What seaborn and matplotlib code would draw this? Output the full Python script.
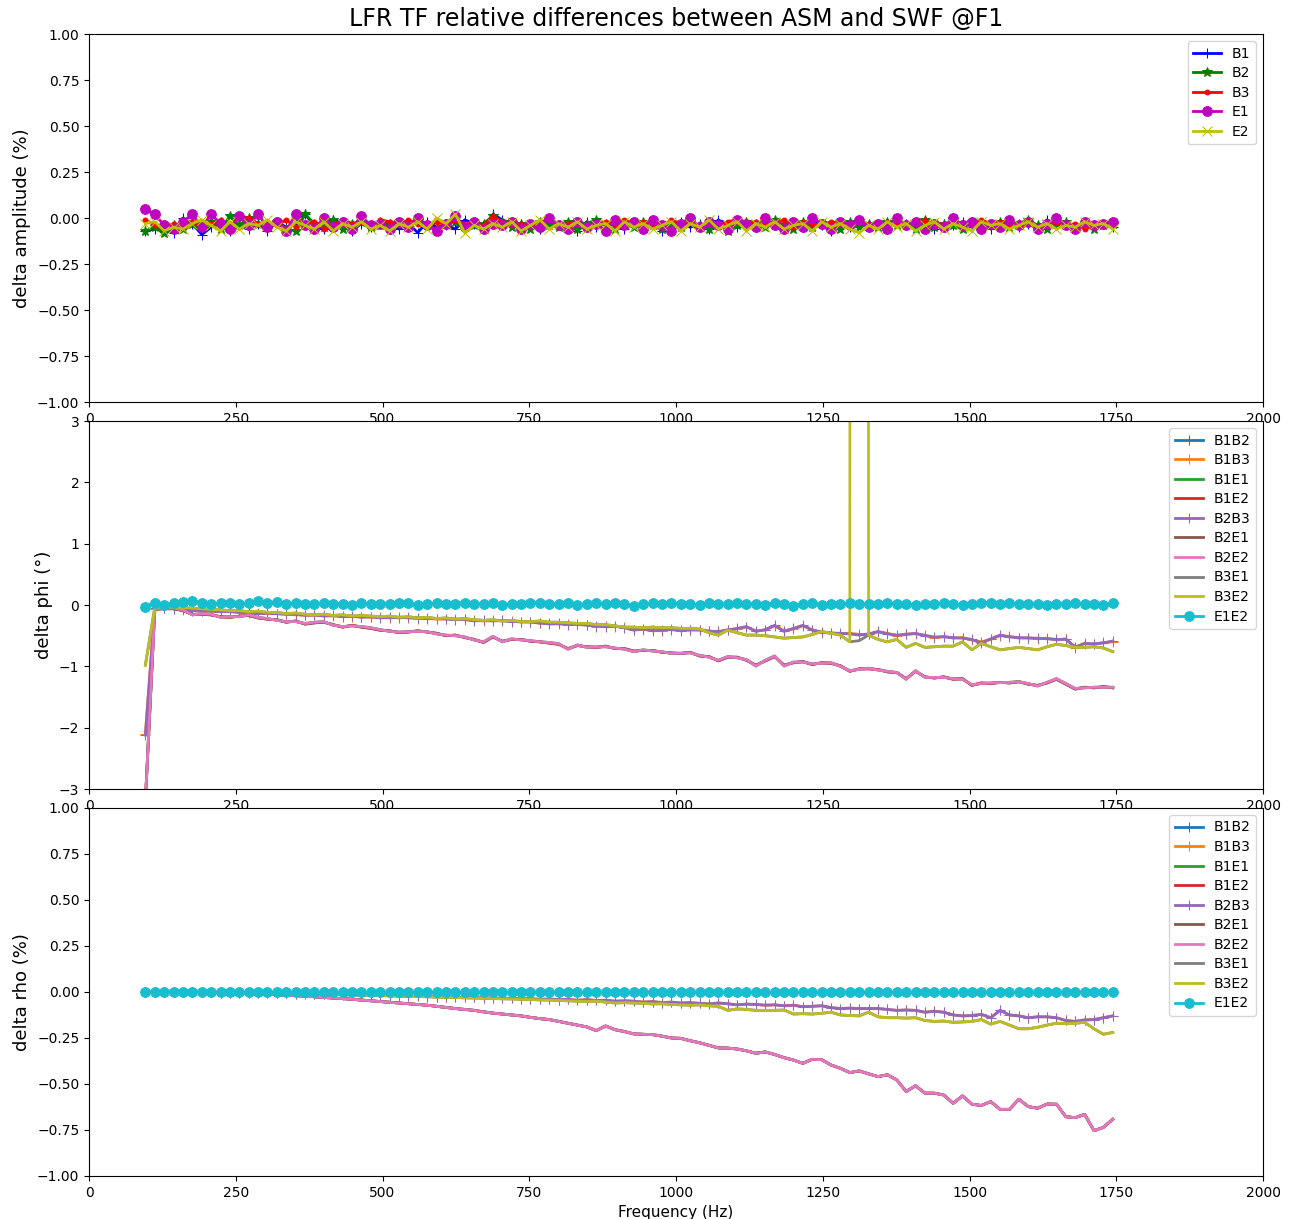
import numpy as np
import seaborn as sns
import matplotlib.pyplot as plt

# frequency grid of the LFR F1 transfer function (16 Hz bins)
freq = np.arange(96, 1745, 16)

# ---- delta amplitude (%) ----
amp_b1 = [-0.07, -0.06, -0.05, -0.08, 0.0, -0.03, -0.09, -0.05, -0.02, -0.07, -0.04, -0.06, -0.03,
          -0.07, -0.02, -0.05, -0.03, 0.02, -0.04, -0.06, -0.01, -0.04, -0.07, -0.03, -0.05, -0.02,
          -0.04, -0.06, -0.03, -0.08, -0.02, -0.05, -0.04, -0.06, -0.01, -0.03, -0.05, 0.02, -0.01,
          -0.03, -0.05, -0.04, -0.06, -0.02, -0.04, -0.03, -0.07, -0.02, -0.05, -0.03, -0.04, -0.06,
          -0.02, -0.05, -0.03, -0.07, -0.04, -0.02, -0.05, -0.03, -0.06, -0.01, -0.04, -0.05, -0.03,
          -0.05, -0.02, -0.04, -0.06, -0.03, -0.05, -0.02, -0.04, -0.07, -0.03, -0.05, -0.02, -0.04,
          -0.03, -0.06, -0.01, -0.04, -0.05, -0.02, -0.06, -0.03, -0.04, -0.02, -0.05, -0.03, -0.06,
          -0.04, -0.02, -0.05, -0.03, -0.06, -0.01, -0.04, -0.03, -0.05, -0.02, -0.04, -0.03, -0.05]
amp_b2 = [-0.07, -0.05, -0.08, -0.04, -0.06, -0.03, -0.05, -0.02, -0.06, 0.01, -0.04, 0.0, -0.03,
          -0.05, -0.02, -0.06, -0.07, 0.02, -0.03, -0.05, -0.01, -0.06, -0.03, -0.02, -0.05, -0.04,
          -0.03, -0.02, -0.05, -0.01, -0.04, -0.06, -0.03, -0.02, -0.05, -0.04, -0.03, 0.01, -0.02,
          -0.05, -0.03, -0.06, -0.02, -0.04, -0.05, -0.02, -0.06, -0.03, -0.01, -0.04, -0.06, -0.03,
          -0.05, -0.02, -0.04, -0.06, -0.03, -0.05, -0.02, -0.04, -0.06, -0.03, -0.07, -0.04, -0.02,
          -0.03, -0.05, -0.01, -0.04, -0.06, -0.02, -0.05, -0.03, -0.04, -0.06, -0.02, -0.05, -0.03,
          -0.05, -0.02, -0.04, -0.03, -0.06, -0.01, -0.05, -0.03, -0.04, -0.06, -0.02, -0.05, -0.04,
          -0.02, -0.05, -0.03, -0.01, -0.04, -0.06, -0.03, -0.02, -0.05, -0.03, -0.06, -0.04, -0.03]
amp_b3 = [-0.01, -0.04, -0.06, -0.03, -0.05, -0.02, -0.04, -0.03, -0.01, -0.05, 0.01, 0.0, -0.03,
          -0.02, -0.04, -0.01, -0.05, -0.03, -0.02, -0.06, -0.04, -0.01, -0.03, -0.02, -0.05, -0.01,
          -0.02, -0.04, -0.01, -0.03, -0.05, -0.02, -0.04, -0.01, -0.03, -0.02, -0.04, 0.01, -0.02,
          -0.04, -0.03, -0.05, -0.02, -0.01, -0.04, -0.03, -0.02, -0.05, -0.03, -0.02, -0.04, -0.01,
          -0.03, -0.02, -0.04, -0.05, -0.01, -0.03, -0.02, -0.04, -0.03, -0.05, -0.02, -0.01, -0.03,
          -0.02, -0.04, -0.03, -0.01, -0.05, -0.02, -0.03, -0.04, -0.02, -0.03, -0.05, -0.02, -0.03,
          -0.04, -0.02, -0.03, -0.05, -0.02, -0.01, -0.04, -0.03, -0.02, -0.04, -0.03, -0.01, -0.03,
          -0.02, -0.04, -0.03, -0.02, -0.05, -0.03, -0.02, -0.04, -0.03, -0.06, -0.04, -0.03, -0.02]
amp_e1 = [0.05, 0.02, -0.04, -0.06, -0.02, 0.02, -0.05, 0.02, -0.03, -0.06, 0.01, -0.04, 0.02,
          -0.05, -0.02, -0.07, 0.02, -0.04, -0.06, 0.0, -0.05, -0.02, -0.06, 0.01, -0.04, -0.03,
          -0.06, -0.02, -0.05, 0.0, -0.04, -0.07, -0.03, 0.01, -0.05, -0.02, -0.06, -0.03, -0.04,
          -0.02, -0.06, -0.03, -0.05, 0.0, -0.04, -0.06, -0.02, -0.05, -0.03, -0.07, -0.01, -0.04,
          -0.02, -0.06, -0.01, -0.04, -0.07, -0.03, 0.0, -0.05, -0.02, -0.04, -0.06, -0.01, -0.03,
          -0.05, 0.0, -0.04, -0.06, -0.02, -0.05, 0.0, -0.03, -0.06, -0.02, -0.04, -0.01, -0.05,
          -0.03, -0.06, 0.0, -0.04, -0.02, -0.06, -0.03, -0.05, 0.0, -0.04, -0.02, -0.06, -0.03,
          -0.05, -0.01, -0.04, -0.02, -0.06, -0.03, 0.0, -0.04, -0.06, -0.02, -0.04, -0.03, -0.02]
amp_e2 = [-0.03, -0.02, -0.07, -0.05, -0.06, -0.03, -0.01, -0.04, -0.07, -0.02, -0.06, -0.03, -0.04,
          -0.01, -0.05, -0.07, -0.02, -0.04, -0.06, -0.02, -0.07, -0.03, -0.05, -0.02, -0.06, -0.04,
          -0.07, -0.03, -0.05, -0.02, -0.06, 0.0, -0.03, 0.02, -0.08, -0.04, -0.06, -0.03, -0.05,
          -0.02, -0.07, -0.04, -0.01, -0.06, -0.03, -0.05, -0.02, -0.06, -0.04, -0.03, -0.07, -0.02,
          -0.05, -0.03, -0.06, -0.04, -0.02, -0.07, -0.03, -0.05, -0.01, -0.06, -0.04, -0.02, -0.07,
          -0.03, -0.05, -0.02, -0.06, -0.04, -0.03, -0.07, -0.02, -0.05, -0.03, -0.06, -0.08, -0.04,
          -0.06, -0.02, -0.05, -0.03, -0.07, -0.04, -0.02, -0.06, -0.03, -0.05, -0.07, -0.02, -0.04,
          -0.03, -0.06, -0.04, -0.02, -0.05, -0.03, -0.06, -0.04, -0.05, -0.02, -0.04, -0.03, -0.06]

# ---- delta phi (deg) ----
phi_e1e2 = [-0.03, 0.04, 0.0, 0.03, 0.05, 0.06, 0.03, 0.02, 0.03, 0.04, 0.02, 0.03, 0.06,
            0.04, 0.05, 0.02, 0.03, 0.01, 0.02, 0.03, 0.01, 0.02, 0.0, 0.03, 0.02, 0.01,
            0.02, 0.04, 0.03, 0.0, 0.02, 0.03, 0.01, 0.02, 0.04, 0.01, 0.02, 0.03, 0.0,
            0.02, 0.01, 0.03, 0.04, 0.01, 0.02, 0.03, 0.0, 0.02, 0.04, 0.01, 0.03, 0.02,
            -0.02, 0.01, 0.03, 0.02, 0.04, 0.01, 0.02, 0.0, 0.03, 0.01, 0.02, 0.03, 0.01,
            0.02, 0.0, 0.03, 0.01, -0.01, 0.02, 0.03, 0.0, 0.02, 0.01, 0.03, 0.02, 0.01,
            0.02, 0.03, 0.01, 0.02, 0.0, 0.02, 0.01, 0.03, 0.02, 0.0, 0.02, 0.03, 0.04,
            0.01, 0.03, 0.02, 0.01, 0.02, 0.0, 0.02, 0.01, 0.03, 0.02, 0.01, 0.0, 0.03]
phi_b2b3 = [-2.12, -0.05, -0.04, -0.06, -0.07, -0.09, -0.09, -0.1, -0.11, -0.1, -0.12, -0.12, -0.14,
            -0.13, -0.14, -0.15, -0.15, -0.17, -0.16, -0.18, -0.17, -0.19, -0.18, -0.2, -0.19, -0.21,
            -0.2, -0.21, -0.2, -0.21, -0.22, -0.22, -0.23, -0.24, -0.23, -0.26, -0.25, -0.26, -0.25,
            -0.27, -0.27, -0.28, -0.29, -0.31, -0.3, -0.32, -0.31, -0.33, -0.34, -0.35, -0.34, -0.37,
            -0.41, -0.39, -0.42, -0.41, -0.4, -0.42, -0.4, -0.41, -0.43, -0.43, -0.41, -0.38, -0.35,
            -0.43, -0.4, -0.33, -0.43, -0.38, -0.33, -0.41, -0.44, -0.46, -0.46, -0.47, -0.49, -0.47,
            -0.43, -0.47, -0.49, -0.48, -0.46, -0.5, -0.52, -0.52, -0.53, -0.54, -0.56, -0.62, -0.55,
            -0.49, -0.52, -0.53, -0.54, -0.54, -0.55, -0.56, -0.56, -0.68, -0.63, -0.63, -0.62, -0.585]
phi_b1b3 = [-2.1, -0.06, -0.05, -0.06, -0.08, -0.08, -0.1, -0.1, -0.1, -0.11, -0.12, -0.13, -0.13,
            -0.14, -0.14, -0.15, -0.16, -0.16, -0.17, -0.17, -0.18, -0.18, -0.19, -0.19, -0.2, -0.2,
            -0.21, -0.2, -0.21, -0.22, -0.21, -0.23, -0.22, -0.23, -0.24, -0.25, -0.26, -0.25, -0.26,
            -0.26, -0.28, -0.27, -0.3, -0.3, -0.31, -0.31, -0.32, -0.32, -0.35, -0.34, -0.35, -0.36,
            -0.4, -0.4, -0.41, -0.42, -0.39, -0.41, -0.41, -0.4, -0.42, -0.44, -0.4, -0.39, -0.36,
            -0.42, -0.41, -0.34, -0.42, -0.39, -0.34, -0.4, -0.45, -0.45, -0.47, -0.46, -0.48, -0.48,
            -0.44, -0.46, -0.5, -0.47, -0.47, -0.49, -0.53, -0.51, -0.54, -0.53, -0.57, -0.6, -0.56,
            -0.5, -0.51, -0.54, -0.53, -0.55, -0.54, -0.57, -0.55, -0.7, -0.62, -0.64, -0.61, -0.6]
phi_b3e1 = [-0.98, -0.04, -0.03, -0.04, -0.04, -0.05, -0.06, -0.07, -0.08, -0.09, -0.09, -0.11, -0.1,
            -0.12, -0.12, -0.14, -0.13, -0.15, -0.16, -0.15, -0.17, -0.16, -0.18, -0.17, -0.18, -0.19,
            -0.18, -0.2, -0.19, -0.21, -0.2, -0.22, -0.21, -0.23, -0.22, -0.24, -0.25, -0.24, -0.26,
            -0.25, -0.27, -0.27, -0.26, -0.28, -0.28, -0.29, -0.3, -0.3, -0.32, -0.32, -0.34, -0.36,
            -0.36, -0.37, -0.36, -0.37, -0.37, -0.38, -0.38, -0.39, -0.45, -0.49, -0.41, -0.45, -0.49,
            -0.49, -0.5, -0.52, -0.54, -0.53, -0.52, -0.48, -0.43, -0.46, -0.49, -0.6, -0.58, -0.49,
            -0.56, -0.6, -0.56, -0.69, -0.625, -0.69, -0.68, -0.67, -0.67, -0.6, -0.73, -0.625, -0.68,
            -0.73, -0.71, -0.69, -0.71, -0.73, -0.68, -0.64, -0.66, -0.69, -0.69, -0.68, -0.7, -0.76]
phi_b3e2 = [-0.98, -0.04, -0.03, -0.04, -0.04, -0.05, -0.06, -0.07, -0.08, -0.09, -0.09, -0.11, -0.1,
            -0.12, -0.12, -0.14, -0.13, -0.15, -0.16, -0.15, -0.17, -0.16, -0.18, -0.17, -0.18, -0.19,
            -0.18, -0.2, -0.19, -0.21, -0.2, -0.22, -0.21, -0.23, -0.22, -0.24, -0.25, -0.24, -0.26,
            -0.25, -0.27, -0.27, -0.26, -0.28, -0.28, -0.29, -0.3, -0.3, -0.32, -0.32, -0.34, -0.36,
            -0.36, -0.37, -0.36, -0.37, -0.37, -0.38, -0.38, -0.39, -0.45, -0.49, -0.41, -0.45, -0.49,
            -0.49, -0.5, -0.52, -0.54, -0.53, -0.52, -0.48, -0.43, -0.46, -0.49, -0.6, 359.4, -0.49,
            -0.56, -0.6, -0.56, -0.69, -0.625, -0.69, -0.68, -0.67, -0.67, -0.6, -0.73, -0.625, -0.68,
            -0.73, -0.71, -0.69, -0.71, -0.73, -0.68, -0.64, -0.66, -0.69, -0.69, -0.68, -0.7, -0.76]
phi_b2e2 = [-3.2, -0.06, -0.05, -0.05, -0.08, -0.16, -0.14, -0.15, -0.2, -0.19, -0.19, -0.16, -0.2,
            -0.22, -0.25, -0.27, -0.27, -0.3, -0.28, -0.27, -0.33, -0.35, -0.34, -0.35, -0.37, -0.4,
            -0.43, -0.44, -0.435, -0.43, -0.435, -0.47, -0.49, -0.5, -0.52, -0.57, -0.6, -0.51, -0.6,
            -0.55, -0.57, -0.58, -0.6, -0.61, -0.63, -0.72, -0.65, -0.69, -0.685, -0.68, -0.7, -0.72,
            -0.76, -0.73, -0.75, -0.76, -0.79, -0.785, -0.78, -0.82, -0.85, -0.9, -0.84, -0.86, -0.89,
            -0.995, -0.9, -0.83, -0.995, -0.93, -0.93, -0.96, -0.95, -0.94, -1.0, -1.07, -1.05, -1.03,
            -1.06, -1.08, -1.1, -1.21, -1.07, -1.18, -1.18, -1.18, -1.2, -1.21, -1.3, -1.28, -1.27,
            -1.265, -1.26, -1.25, -1.28, -1.32, -1.26, -1.2, -1.28, -1.36, -1.35, -1.34, -1.34, -1.34]
phi_b1e2 = [-3.2, -0.07, -0.06, -0.06, -0.09, -0.15, -0.15, -0.16, -0.19, -0.2, -0.18, -0.17, -0.21,
            -0.23, -0.24, -0.28, -0.26, -0.31, -0.29, -0.28, -0.32, -0.36, -0.33, -0.36, -0.38, -0.41,
            -0.42, -0.45, -0.44, -0.42, -0.44, -0.46, -0.5, -0.49, -0.53, -0.56, -0.61, -0.52, -0.59,
            -0.56, -0.56, -0.59, -0.6, -0.62, -0.64, -0.71, -0.66, -0.68, -0.69, -0.67, -0.71, -0.71,
            -0.75, -0.74, -0.74, -0.77, -0.78, -0.79, -0.77, -0.83, -0.84, -0.91, -0.85, -0.85, -0.9,
            -0.98, -0.91, -0.84, -0.98, -0.94, -0.92, -0.97, -0.94, -0.95, -0.99, -1.08, -1.04, -1.04,
            -1.05, -1.09, -1.1, -1.2, -1.08, -1.17, -1.19, -1.17, -1.21, -1.2, -1.31, -1.27, -1.28,
            -1.26, -1.27, -1.25, -1.29, -1.31, -1.27, -1.21, -1.29, -1.37, -1.34, -1.35, -1.33, -1.35]

# ---- delta rho (%) ----
rho_e1e2 = [0.0, 0.0, 0.0, 0.0, 0.0, 0.0, 0.0, 0.0, 0.0, 0.0, 0.0, 0.0, 0.0,
            0.0, 0.0, 0.0, 0.0, 0.0, 0.0, 0.0, 0.0, 0.0, 0.0, 0.0, 0.0, 0.0,
            0.0, 0.0, 0.0, 0.0, 0.0, 0.0, 0.0, 0.0, 0.0, 0.0, 0.0, 0.0, 0.0,
            0.0, 0.0, 0.0, 0.0, 0.0, 0.0, 0.0, 0.0, 0.0, 0.0, 0.0, 0.0, 0.0,
            0.0, 0.0, 0.0, 0.0, 0.0, 0.0, 0.0, 0.0, 0.0, 0.0, 0.0, 0.0, 0.0,
            0.0, 0.0, 0.0, 0.0, 0.0, 0.0, 0.0, 0.0, 0.0, 0.0, 0.0, 0.0, 0.0,
            0.0, 0.0, 0.0, 0.0, 0.0, 0.0, 0.0, 0.0, 0.0, 0.0, 0.0, 0.0, 0.0,
            0.0, 0.0, 0.0, 0.0, 0.0, 0.0, 0.0, 0.0, 0.0, 0.0, 0.0, 0.0, 0.0]
rho_b2b3 = [0.0, 0.0, 0.0, 0.0, 0.0, -0.001, -0.002, -0.002, -0.003, -0.003, -0.004, -0.005, -0.005,
            -0.006, -0.007, -0.008, -0.009, -0.01, -0.011, -0.012, -0.013, -0.014, -0.015, -0.016, -0.018, -0.019,
            -0.02, -0.021, -0.023, -0.024, -0.025, -0.026, -0.028, -0.029, -0.03, -0.03, -0.032, -0.033, -0.034,
            -0.035, -0.037, -0.036, -0.04, -0.038, -0.042, -0.04, -0.045, -0.042, -0.046, -0.045, -0.05, -0.048,
            -0.05, -0.055, -0.052, -0.058, -0.055, -0.06, -0.058, -0.062, -0.065, -0.06, -0.064, -0.07, -0.066,
            -0.068, -0.072, -0.07, -0.075, -0.072, -0.08, -0.078, -0.075, -0.085, -0.09, -0.088, -0.09, -0.09,
            -0.09, -0.095, -0.1, -0.098, -0.1, -0.11, -0.105, -0.11, -0.125, -0.13, -0.128, -0.122, -0.14,
            -0.1, -0.125, -0.13, -0.14, -0.135, -0.135, -0.14, -0.155, -0.16, -0.152, -0.15, -0.14, -0.13]
rho_b3e2 = [0.0, 0.0, 0.0, 0.0, -0.001, -0.001, -0.002, -0.002, -0.003, -0.004, -0.004, -0.005, -0.006,
            -0.007, -0.008, -0.009, -0.01, -0.011, -0.012, -0.013, -0.014, -0.015, -0.016, -0.018, -0.019, -0.02,
            -0.021, -0.022, -0.024, -0.025, -0.026, -0.028, -0.029, -0.03, -0.032, -0.033, -0.034, -0.036, -0.037,
            -0.038, -0.04, -0.041, -0.043, -0.044, -0.046, -0.048, -0.05, -0.052, -0.05, -0.055, -0.06, -0.058,
            -0.06, -0.062, -0.065, -0.064, -0.068, -0.07, -0.072, -0.07, -0.075, -0.078, -0.1, -0.092, -0.095,
            -0.1, -0.1, -0.1, -0.098, -0.12, -0.118, -0.12, -0.116, -0.11, -0.125, -0.128, -0.13, -0.11,
            -0.135, -0.14, -0.14, -0.142, -0.14, -0.155, -0.16, -0.158, -0.165, -0.163, -0.16, -0.15, -0.175,
            -0.16, -0.18, -0.2, -0.2, -0.192, -0.18, -0.17, -0.172, -0.17, -0.165, -0.2, -0.23, -0.22]
rho_b2e2 = [0.0, 0.0, 0.0, 0.0, 0.0, -0.001, -0.002, -0.003, -0.004, -0.005, -0.006, -0.008, -0.01,
            -0.012, -0.015, -0.018, -0.02, -0.023, -0.026, -0.03, -0.033, -0.036, -0.04, -0.044, -0.048, -0.052,
            -0.056, -0.06, -0.064, -0.068, -0.072, -0.078, -0.084, -0.09, -0.095, -0.1, -0.108, -0.115, -0.12,
            -0.125, -0.13, -0.138, -0.145, -0.15, -0.16, -0.17, -0.18, -0.19, -0.21, -0.185, -0.205, -0.215,
            -0.228, -0.23, -0.232, -0.24, -0.25, -0.252, -0.265, -0.276, -0.29, -0.304, -0.305, -0.31, -0.32,
            -0.333, -0.326, -0.34, -0.357, -0.37, -0.388, -0.366, -0.368, -0.397, -0.415, -0.438, -0.429, -0.445,
            -0.46, -0.45, -0.478, -0.541, -0.51, -0.55, -0.55, -0.56, -0.605, -0.565, -0.61, -0.617, -0.596,
            -0.638, -0.638, -0.583, -0.623, -0.632, -0.609, -0.61, -0.678, -0.683, -0.665, -0.754, -0.736, -0.692]

amp_series = [("B1", amp_b1, "b", "+"), ("B2", amp_b2, "g", "*"), ("B3", amp_b3, "r", "."),
              ("E1", amp_e1, "m", "o"), ("E2", amp_e2, "y", "x")]

pairs = ["B1B2", "B1B3", "B1E1", "B1E2", "B2B3", "B2E1", "B2E2", "B3E1", "B3E2", "E1E2"]
pair_markers = {"B1B2": "+", "B1B3": "+", "B2B3": "+", "E1E2": "o"}
phi = {"B1B2": phi_e1e2, "B1B3": phi_b1b3, "B1E1": phi_b2e2, "B1E2": phi_b1e2, "B2B3": phi_b2b3,
       "B2E1": phi_b1e2, "B2E2": phi_b2e2, "B3E1": phi_b3e1, "B3E2": phi_b3e2, "E1E2": phi_e1e2}
rho = {"B1B2": rho_e1e2, "B1B3": rho_b2b3, "B1E1": rho_b2e2, "B1E2": rho_b2e2, "B2B3": rho_b2b3,
       "B2E1": rho_b2e2, "B2E2": rho_b2e2, "B3E1": rho_b3e2, "B3E2": rho_b3e2, "E1E2": rho_e1e2}

palette = sns.color_palette("tab10", 10)

fig = plt.figure(figsize=(12.94, 12.19), dpi=100)
left, width, height = 0.0688, 0.9073, 0.3019
ax1 = fig.add_axes([left, 0.6702, width, height])
ax2 = fig.add_axes([left, 0.3527, width, height])
ax3 = fig.add_axes([left, 0.0353, width, height])

for name, vals, col, mk in amp_series:
    sns.lineplot(x=freq, y=vals, ax=ax1, color=col, marker=mk, markersize=7,
                 markeredgecolor=col, linewidth=2, label=name, estimator=None, sort=False)

for ax, data in [(ax2, phi), (ax3, rho)]:
    for i, p in enumerate(pairs):
        mk = pair_markers.get(p, None)
        sns.lineplot(x=freq, y=data[p], ax=ax, color=palette[i], marker=mk, markersize=7,
                     markeredgecolor=palette[i], linewidth=2, label=p, estimator=None, sort=False)

for ax in (ax1, ax2, ax3):
    ax.set_xlim(0, 2000)
    ax.set_xticks(np.arange(0, 2001, 250))
    ax.tick_params(labelsize=10)
    ax.legend(loc="upper right", fontsize=10, labelspacing=0.4)
    ax.set_xlabel("")

ax1.set_ylim(-1, 1)
ax1.set_yticks(np.arange(-1, 1.01, 0.25))
ax3.set_ylim(-1, 1)
ax3.set_yticks(np.arange(-1, 1.01, 0.25))
ax2.set_ylim(-3, 3)
ax2.set_yticks(np.arange(-3, 4, 1))

ax1.set_ylabel("delta amplitude (%)", fontsize=13)
ax2.set_ylabel("delta phi (°)", fontsize=13)
ax3.set_ylabel("delta rho (%)", fontsize=13)
ax3.set_xlabel("Frequency (Hz)", fontsize=11)
ax1.set_title("LFR TF relative differences between ASM and SWF @F1", fontsize=17)

fig.savefig("out.png", dpi=100)
